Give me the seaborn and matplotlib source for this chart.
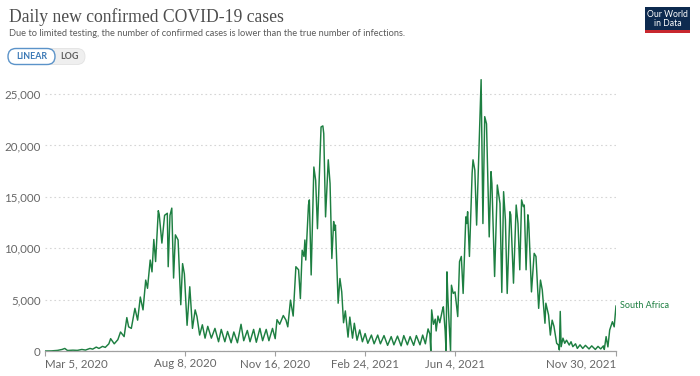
import matplotlib
matplotlib.use("Agg")
import matplotlib.pyplot as plt
from matplotlib.patches import FancyBboxPatch, Rectangle
import pandas as pd
import seaborn as sns

# ---- data (line vertices) ----
dates = [
    "2020-03-05", "2020-03-12", "2020-03-19", "2020-03-24", "2020-03-27", "2020-03-30",
    "2020-04-05", "2020-04-10", "2020-04-15", "2020-04-19", "2020-04-24", "2020-04-27",
    "2020-05-01", "2020-05-04", "2020-05-08", "2020-05-11", "2020-05-15", "2020-05-17",
    "2020-05-21", "2020-05-25", "2020-05-28", "2020-06-01", "2020-06-04", "2020-06-06",
    "2020-06-09", "2020-06-13", "2020-06-16", "2020-06-19", "2020-06-22", "2020-06-25",
    "2020-06-27", "2020-06-30", "2020-07-02", "2020-07-04", "2020-07-06", "2020-07-09",
    "2020-07-10", "2020-07-13", "2020-07-16", "2020-07-19", "2020-07-20", "2020-07-22",
    "2020-07-24", "2020-07-26", "2020-07-28", "2020-07-31", "2020-08-03", "2020-08-05",
    "2020-08-07", "2020-08-10", "2020-08-13", "2020-08-16", "2020-08-19", "2020-08-21",
    "2020-08-24", "2020-08-27", "2020-08-30", "2020-09-02", "2020-09-06", "2020-09-10",
    "2020-09-14", "2020-09-17", "2020-09-21", "2020-09-24", "2020-09-28", "2020-10-01",
    "2020-10-05", "2020-10-09", "2020-10-12", "2020-10-16", "2020-10-19", "2020-10-23",
    "2020-10-26", "2020-10-30", "2020-11-02", "2020-11-06", "2020-11-09", "2020-11-13",
    "2020-11-16", "2020-11-18", "2020-11-21", "2020-11-25", "2020-11-28", "2020-11-30",
    "2020-12-03", "2020-12-06", "2020-12-09", "2020-12-12", "2020-12-14", "2020-12-16",
    "2020-12-18", "2020-12-19", "2020-12-20", "2020-12-23", "2020-12-24", "2020-12-26",
    "2020-12-29", "2020-12-31", "2021-01-02", "2021-01-06", "2021-01-08", "2021-01-09",
    "2021-01-11", "2021-01-14", "2021-01-16", "2021-01-18", "2021-01-20", "2021-01-21",
    "2021-01-22", "2021-01-25", "2021-01-27", "2021-01-29", "2021-01-31", "2021-02-02",
    "2021-02-05", "2021-02-07", "2021-02-10", "2021-02-12", "2021-02-15", "2021-02-18",
    "2021-02-21", "2021-02-24", "2021-02-27", "2021-03-03", "2021-03-06", "2021-03-10",
    "2021-03-13", "2021-03-17", "2021-03-21", "2021-03-25", "2021-03-28", "2021-04-01",
    "2021-04-05", "2021-04-08", "2021-04-12", "2021-04-15", "2021-04-19", "2021-04-22",
    "2021-04-26", "2021-04-29", "2021-05-02", "2021-05-05", "2021-05-07", "2021-05-08",
    "2021-05-09", "2021-05-11", "2021-05-13", "2021-05-14", "2021-05-16", "2021-05-18",
    "2021-05-21", "2021-05-22", "2021-05-24", "2021-05-25", "2021-05-26", "2021-05-27",
    "2021-05-28", "2021-05-30", "2021-05-31", "2021-06-02", "2021-06-04", "2021-06-07",
    "2021-06-09", "2021-06-11", "2021-06-13", "2021-06-16", "2021-06-17", "2021-06-18",
    "2021-06-20", "2021-06-23", "2021-06-24", "2021-06-26", "2021-06-28", "2021-07-03",
    "2021-07-05", "2021-07-07", "2021-07-09", "2021-07-12", "2021-07-14", "2021-07-15",
    "2021-07-18", "2021-07-21", "2021-07-24", "2021-07-26", "2021-07-28", "2021-07-30",
    "2021-08-01", "2021-08-04", "2021-08-05", "2021-08-08", "2021-08-11", "2021-08-13",
    "2021-08-15", "2021-08-17", "2021-08-19", "2021-08-20", "2021-08-22", "2021-08-24",
    "2021-08-25", "2021-08-28", "2021-08-31", "2021-09-02", "2021-09-05", "2021-09-07",
    "2021-09-09", "2021-09-12", "2021-09-13", "2021-09-16", "2021-09-18", "2021-09-20",
    "2021-09-22", "2021-09-25", "2021-09-27", "2021-09-28", "2021-09-29", "2021-09-30",
    "2021-10-02", "2021-10-04", "2021-10-06", "2021-10-09", "2021-10-11", "2021-10-13",
    "2021-10-16", "2021-10-18", "2021-10-21", "2021-10-24", "2021-10-27", "2021-10-31",
    "2021-11-03", "2021-11-07", "2021-11-10", "2021-11-13", "2021-11-16", "2021-11-17",
    "2021-11-19", "2021-11-21", "2021-11-23", "2021-11-26", "2021-11-28", "2021-11-30",
]
cases = [
    0, 10, 60, 150, 250, 50,
    80, 60, 150, 90, 250, 180,
    380, 250, 450, 350, 700, 1200,
    700, 1100, 1850, 1400, 3250, 2350,
    2200, 4150, 3000, 5250, 4000, 6900,
    6100, 8850, 7700, 10850, 8700, 13650,
    13300, 10500, 13200, 13400, 8200, 13200,
    13900, 7100, 11300, 10800, 4500, 8500,
    7500, 2500, 6250, 2200, 4000, 3350,
    1550, 2550, 1250, 2400, 1250, 2200,
    900, 2100, 900, 1900, 800, 1850,
    800, 2600, 1000, 2000, 900, 2100,
    850, 2200, 1000, 2100, 1000, 2200,
    1200, 3050, 2600, 3450, 3000, 2350,
    4950, 3400, 8200, 7900, 5100, 9800,
    9200, 10800, 8850, 14200, 14700, 7400,
    17900, 16600, 11900, 21800, 21900, 21150,
    13050, 18600, 16300, 9000, 12600, 11750,
    12250, 4650, 7050, 5750, 2750, 3900,
    1350, 3300, 1250, 2700, 1050, 2050,
    900, 1700, 750, 1550, 700, 1550,
    700, 1500, 550, 1400, 600, 1450,
    500, 1500, 600, 1400, 550, 1500,
    600, 1550, 700, 2150, 1650, 0,
    4000, 2600, 3100, 1950, 3400, 2750,
    4000, 4300, 1950, 0, 7700, 5300,
    3350, 0, 6400, 5600, 5750, 3350,
    8700, 9200, 5600, 13050, 12400, 13550,
    9200, 17300, 18600, 17600, 12250, 26400,
    12400, 22800, 22100, 11100, 17450, 16300,
    7250, 16150, 14350, 5700, 15500, 12750,
    5600, 13550, 13250, 6600, 14200, 12400,
    7900, 14700, 14050, 14200, 7900, 13250,
    12400, 5750, 9500, 9200, 4150, 6900,
    5950, 2700, 4650, 3500, 1550, 3000,
    2400, 750, 580, 100, 3850, 420,
    1250, 750, 1050, 580, 900, 420,
    700, 250, 600, 250, 550, 200,
    500, 150, 450, 200, 500, 150,
    1400, 400, 2050, 2850, 2350, 4400,
]
country = "South Africa"
tick_dates = ["2020-03-05", "2020-08-08", "2020-11-16", "2021-02-24", "2021-06-04", "2021-11-30"]
tick_labels = ["Mar 5, 2020", "Aug 8, 2020", "Nov 16, 2020", "Feb 24, 2021", "Jun 4, 2021", "Nov 30, 2021"]
y_ticks = [0, 5000, 10000, 15000, 20000, 25000]

title = "Daily new confirmed COVID-19 cases"
subtitle = ("Due to limited testing, the number of confirmed cases is lower than "
            "the true number of infections.")

# ---- figure ----
sns.set_theme(style="white")
plt.rcParams["font.family"] = ["Lato", "DejaVu Sans"]

W, H = 700, 376
fig = plt.figure(figsize=(W / 100, H / 100), dpi=100)
fig.patch.set_facecolor("white")

ax = fig.add_axes([45 / W, 1 - 351 / H, 571 / W, 273 / H])

df = pd.DataFrame({"date": pd.to_datetime(dates), "cases": cases})
line_color = "#1d7f41"
sns.lineplot(data=df, x="date", y="cases", color=line_color, linewidth=1.05, ax=ax)

ax.set_xlim(pd.Timestamp(tick_dates[0]), pd.Timestamp(tick_dates[-1]))
ax.set_ylim(0, 26560)
ax.set_xlabel("")
ax.set_ylabel("")
ax.set_facecolor("white")

# y axis
ax.set_yticks(y_ticks)
ax.set_yticklabels([f"{v:,}" for v in y_ticks])
ax.yaxis.grid(True, linestyle=(0, (1.5, 2.5)), color="#d6d6d6", linewidth=0.8)
ax.xaxis.grid(False)
ax.tick_params(axis="y", length=0, pad=3, labelsize=8.3, labelcolor="#666666")
for s in ["left", "right", "top"]:
    ax.spines[s].set_visible(False)
ax.spines["bottom"].set_color("#a0a0a0")
ax.spines["bottom"].set_linewidth(0.9)

# x axis
ax.set_xticks(pd.to_datetime(tick_dates))
ax.set_xticklabels(tick_labels)
ax.tick_params(axis="x", length=3.5, width=0.8, color="#a0a0a0", pad=1.5,
               labelsize=8.3, labelcolor="#666666", bottom=True)
labels = ax.get_xticklabels()
labels[0].set_horizontalalignment("left")
labels[-1].set_horizontalalignment("right")

# series label
ax.annotate(country, xy=(pd.Timestamp(dates[-1]), cases[-1]), xytext=(3, 0),
            textcoords="offset points", va="center", ha="left",
            fontsize=6.5, color=line_color, annotation_clip=False)

# title and subtitle
fig.text(9 / W, 1 - 17 / H, title, fontsize=12.7, family=["Liberation Serif", "DejaVu Serif"],
         color="#4d4d4d", va="center", ha="left")
fig.text(9 / W, 1 - 33 / H, subtitle, fontsize=6.7, color="#5a5a5a",
         va="center", ha="left")

# LINEAR / LOG toggle (pill shaped, drawn in inch units so corners stay round)
inch = fig.dpi_scale_trans
by0 = (H - 64.5) / 100
bh = 16 / 100
fig.patches.append(FancyBboxPatch((30 / 100, by0), 55 / 100, bh,
                                  boxstyle=f"round,pad=0,rounding_size={bh / 2}",
                                  transform=inch, facecolor="#efefef",
                                  edgecolor="#e2e2e2", linewidth=0.6))
fig.patches.append(FancyBboxPatch((8 / 100, by0), 47 / 100, bh,
                                  boxstyle=f"round,pad=0,rounding_size={bh / 2}",
                                  transform=inch, facecolor="white",
                                  edgecolor="#5b93c9", linewidth=1.0))
fig.text(31.5 / W, 1 - 56.5 / H, "LINEAR", fontsize=6.4, fontweight="bold",
         color="#3a78b5", va="center", ha="center")
fig.text(69.5 / W, 1 - 56.5 / H, "LOG", fontsize=6.4, fontweight="bold",
         color="#5f5f5f", va="center", ha="center")

# OWID logo
fig.patches.append(Rectangle((645 / W, 1 - 33 / H), 45 / W, 26 / H,
                             transform=fig.transFigure, facecolor="#0d2a4f", edgecolor="none"))
fig.patches.append(Rectangle((645 / W, 1 - 33 / H), 45 / W, 3 / H,
                             transform=fig.transFigure, facecolor="#c8282e", edgecolor="none"))
fig.text(667.5 / W, 1 - 19 / H, "Our World\nin Data", fontsize=6.2, color="white",
         va="center", ha="center", linespacing=0.95)

fig.savefig("out.png", dpi=100, facecolor="white")
